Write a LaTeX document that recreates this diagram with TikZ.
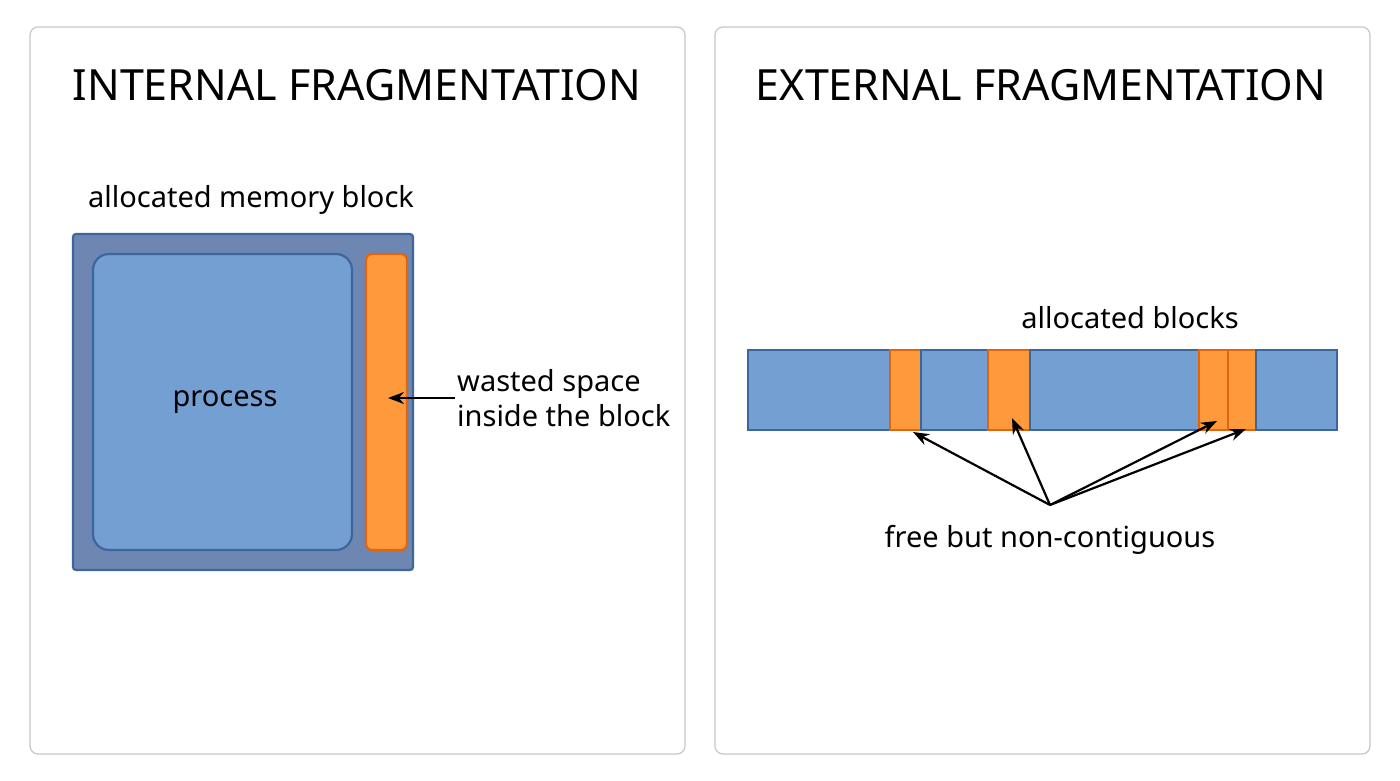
\documentclass[tikz,border=0pt]{standalone}
\usepackage{fontspec}
\setmainfont{Noto Sans}
\usetikzlibrary{arrows.meta}
\definecolor{blu}{HTML}{739FD3}
\definecolor{blub}{HTML}{3D679C}
\definecolor{slate}{HTML}{6D86B2}
\definecolor{ora}{HTML}{FF9A3C}
\definecolor{orab}{HTML}{E0660E}
\begin{document}
\begin{tikzpicture}[x=1pt,y=-1pt,
 panel/.style={draw=black!22,line width=1.2pt,rounded corners=8pt,fill=white},
 title/.style={font=\fontsize{43}{50}\selectfont},
 lbl/.style={font=\fontsize{29}{35}\selectfont},
 bl/.style={draw=blub,line width=2.2pt,fill=blu},
 or/.style={draw=orab,line width=2.2pt,fill=ora},
 arr/.style={-{Stealth[length=16pt,width=12pt]},line width=2.2pt}]
\useasboundingbox (0,0) rectangle (1400,781);
\fill[white] (0,0) rectangle (1400,781);
\draw[panel] (30,27) rectangle (685,754);
\draw[panel] (715,27) rectangle (1370,754);
\node[title] (t1) at (357,85) {INTERNAL FRAGMENTATION};
\node[title] (t2) at (1041,85) {EXTERNAL FRAGMENTATION};
% left
\node[lbl] (amb) at (251,200) {allocated memory block};
\draw[draw=blub,line width=2.2pt,fill=slate,rounded corners=3pt] (73,234) rectangle (413,570);
\draw[bl,rounded corners=16pt] (93,254) rectangle (352,550);
\node[lbl] (proc) at (225,402) {process};
\draw[or,rounded corners=6pt] (366,254) rectangle (407,550);
\node[lbl,anchor=west,align=left,inner sep=2pt] (ws) at (455,398) {wasted space\\inside the block};
\coordinate (w) at (388,398);
\draw[arr] (ws.west) -- (w);
% right
\node[lbl] (ab) at (1130,318) {allocated blocks};
\draw[bl] (748,350) rectangle (890,430);
\draw[or] (890,350) rectangle (921,430);
\draw[bl] (921,350) rectangle (988,430);
\draw[or] (988,350) rectangle (1030,430);
\draw[bl] (1030,350) rectangle (1199,430);
\draw[or] (1199,350) rectangle (1228,430);
\draw[or] (1228,350) rectangle (1256,430);
\draw[bl] (1256,350) rectangle (1337,430);
\node[lbl] (fb) at (1050,540) {free but non-contiguous};
\coordinate (h) at (1050,505);
\coordinate (f1) at (913,432);
\coordinate (f2) at (1012,418);
\coordinate (f3) at (1217,421);
\coordinate (f4) at (1246,429);
\foreach \f in {f1,f2,f3,f4} \draw[arr] (h) -- (\f);
\end{tikzpicture}
\end{document}
